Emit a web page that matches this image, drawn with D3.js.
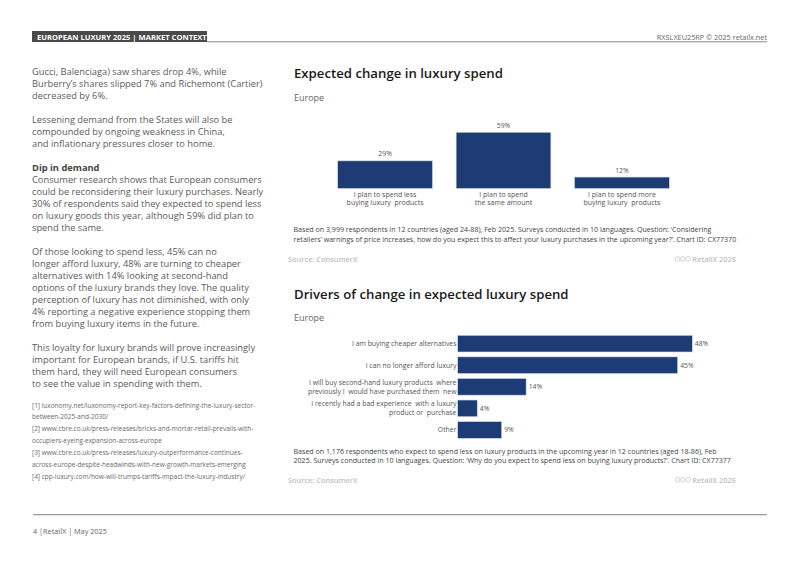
<!DOCTYPE html>
<html><head><meta charset="utf-8">
<script src="https://cdn.jsdelivr.net/npm/d3@7"></script>
<style>
html,body{margin:0;padding:0;background:#fff;}
svg{display:block;font-family:"Open Sans",sans-serif;}
svg text{white-space:pre;}
</style></head>
<body>
<svg id="page" width="800" height="566"></svg>
<script>
// ---------- DATA ----------
const spendCategories = [
  ["I plan to spend less", "buying luxury  products"],
  ["I plan to spend", "the same amount"],
  ["I plan to spend more", "buying luxury  products"]
];
const spendValues = [29, 59, 12];

const driverCategories = [
  ["I am buying cheaper alternatives"],
  ["I can no longer afford luxury"],
  ["I will buy second-hand luxury products  where", "previously I  would have purchased them  new"],
  ["I recently had a bad experience  with a luxury", "product or  purchase"],
  ["Other"]
];
const driverValues = [48, 45, 14, 4, 9];

const bodyParagraphs = [
  {lines:["Gucci, Balenciaga) saw shares drop 4%, while","Burberry’s shares slipped 7% and Richemont (Cartier)","decreased by 6%."]},
  {lines:["Lessening demand from the States will also be","compounded by ongoing weakness in China,","and inflationary pressures closer to home."]},
  {head:"Dip in demand", lines:["Consumer research shows that European consumers","could be reconsidering their luxury purchases. Nearly","30% of respondents said they expected to spend less","on luxury goods this year, although 59% did plan to","spend the same."]},
  {lines:["Of those looking to spend less, 45% can no","longer afford luxury, 48% are turning to cheaper","alternatives with 14% looking at second-hand","options of the luxury brands they love. The quality","perception of luxury has not diminished, with only","4% reporting a negative experience stopping them","from buying luxury items in the future."]},
  {lines:["This loyalty for luxury brands will prove increasingly","important for European brands, if U.S. tariffs hit","them hard, they will need European consumers","to see the value in spending with them."]}
];
const footnotes = [
  "[1] luxonomy.net/luxonomy-report-key-factors-defining-the-luxury-sector-",
  "between-2025-and-2030/",
  "[2] www.cbre.co.uk/press-releases/bricks-and-mortar-retail-prevails-with-",
  "occupiers-eyeing-expansion-across-europe",
  "[3] www.cbre.co.uk/press-releases/luxury-outperformance-continues-",
  "across-europe-despite-headwinds-with-new-growth-markets-emerging",
  "[4] cpp-luxury.com/how-will-trumps-tariffs-impact-the-luxury-industry/"
];
const note1 = ["Based on 3,999 respondents in 12 countries (aged 24-88), Feb 2025. Surveys conducted in 10 languages. Question: ‘Considering",
  "retailers’ warnings of price increases, how do you expect this to affect your luxury purchases in the upcoming year?’. Chart ID: CX77370"];
const note2 = ["Based on 1,176 respondents who expect to spend less on luxury products in the upcoming year in 12 countries (aged 18-86), Feb",
  "2025. Surveys conducted in 10 languages. Question: ‘Why do you expect to spend less on buying luxury products?’. Chart ID: CX77377"];

// ---------- STYLE ----------
const BAR = "#1d3c75";
const svg = d3.select("#page");

// ---------- HEADER ----------
svg.append("rect").attr("x",32).attr("y",31).attr("width",175).attr("height",11).attr("fill","#4a4a4a");
svg.append("text").attr("x",37).attr("y",39.5).attr("fill","#fff").attr("font-size",7.6).attr("font-weight",700)
  .text("EUROPEAN LUXURY 2025 | MARKET CONTEXT");
svg.append("line").attr("x1",207).attr("x2",767).attr("y1",41.8).attr("y2",41.8).attr("stroke","#888").attr("stroke-width",1);
svg.append("text").attr("x",767).attr("y",39.5).attr("text-anchor","end").attr("fill","#666").attr("font-size",7.3)
  .text("RXSLXEU25RP © 2025 retailx.net");

// ---------- LEFT TEXT ----------
const body = svg.append("g");
let y = 75;
const LH = 12;
bodyParagraphs.forEach(p => {
  if (p.head) {
    body.append("text").attr("x",32).attr("y",y).attr("font-size",9.3).attr("font-weight",700).attr("fill","#444").text(p.head);
    y += LH;
  }
  p.lines.forEach(l => {
    body.append("text").attr("x",32).attr("y",y).attr("font-size",9.3).attr("fill","#5a5a5a").text(l);
    y += LH;
  });
  y += LH;
});
footnotes.forEach((f,i) => {
  svg.append("text").attr("x",32).attr("y",407.5 + i*11.9).attr("font-size",6.5).attr("fill","#6a6a6a").text(f);
});

// ---------- CHART 1 ----------
svg.append("text").attr("x",294).attr("y",78).attr("font-size",13.2).attr("font-weight",600).attr("fill","#1a1a1a")
  .text("Expected change in luxury spend");
svg.append("text").attr("x",294).attr("y",100.5).attr("font-size",9).attr("fill","#666").text("Europe");

const x1 = d3.scaleBand().domain(d3.range(spendValues.length)).range([337.7, 669.3]).paddingInner(0.2).paddingOuter(0);
const y1 = d3.scaleLinear().domain([0, 60]).range([188.5, 131.3]);
const g1 = svg.append("g");
g1.selectAll("rect").data(spendValues).join("rect")
  .attr("x",(d,i)=>x1(i)).attr("width",x1.bandwidth())
  .attr("y",d=>y1(d)).attr("height",d=>y1(0)-y1(d))
  .attr("fill",BAR).attr("stroke","#cfd8e6").attr("stroke-width",0.6);
g1.selectAll("text.val").data(spendValues).join("text").attr("class","val")
  .attr("x",(d,i)=>x1(i)+x1.bandwidth()/2).attr("y",d=>y1(d)-4.5)
  .attr("text-anchor","middle").attr("font-size",6.8).attr("fill","#555").text(d=>d+"%");
spendCategories.forEach((lines,i)=>{
  lines.forEach((l,j)=>{
    g1.append("text").attr("x",x1(i)+x1.bandwidth()/2).attr("y",196.5+j*8.8)
      .attr("text-anchor","middle").attr("font-size",7).attr("fill","#555").text(l);
  });
});
note1.forEach((l,i)=>{
  svg.append("text").attr("x",293.5).attr("y",232+i*9.8).attr("font-size",7.08).attr("fill","#444").text(l);
});
function sourceRow(yy){
  svg.append("text").attr("x",288).attr("y",yy).attr("font-size",7.4).attr("fill","#c0c0c0").attr("font-weight",600).text("Source: ConsumerX");
  svg.append("text").attr("x",736).attr("y",yy).attr("text-anchor","end").attr("font-size",7.4).attr("fill","#c0c0c0").attr("font-weight",600).text("RetailX 2025");
  ["c","i","="].forEach((s,k)=>{
    const cx = 677.5 + k*5.3;
    svg.append("circle").attr("cx",cx).attr("cy",yy-2.7).attr("r",2.4).attr("fill","none").attr("stroke","#c4c4c4").attr("stroke-width",0.7);
    svg.append("text").attr("x",cx).attr("y",yy-1.2).attr("text-anchor","middle").attr("font-size",3.6).attr("fill","#c4c4c4").text(s);
  });
}
sourceRow(261.5);

// ---------- CHART 2 ----------
svg.append("text").attr("x",294).attr("y",299).attr("font-size",13.2).attr("font-weight",600).attr("fill","#1a1a1a")
  .text("Drivers of change in expected luxury spend");
svg.append("text").attr("x",294).attr("y",320.5).attr("font-size",9).attr("fill","#666").text("Europe");

const y2 = d3.scaleBand().domain(d3.range(driverValues.length)).range([335.3, 438.3]).paddingInner(0.226).paddingOuter(0);
const x2 = d3.scaleLinear().domain([0, 48]).range([457.7, 692.3]);
const g2 = svg.append("g");
g2.selectAll("rect").data(driverValues).join("rect")
  .attr("x",x2(0)).attr("y",(d,i)=>y2(i)).attr("height",y2.bandwidth())
  .attr("width",d=>x2(d)-x2(0))
  .attr("fill",BAR).attr("stroke","#cfd8e6").attr("stroke-width",0.6);
g2.selectAll("text.val").data(driverValues).join("text").attr("class","val")
  .attr("x",d=>x2(d)+2.5).attr("y",(d,i)=>y2(i)+y2.bandwidth()/2+2.5)
  .attr("font-size",6.8).attr("fill","#555").text(d=>d+"%");
driverCategories.forEach((lines,i)=>{
  const cy = y2(i)+y2.bandwidth()/2;
  const n = lines.length;
  lines.forEach((l,j)=>{
    g2.append("text").attr("x",456.5).attr("y",cy + 2.4 + (j-(n-1)/2)*9)
      .attr("text-anchor","end").attr("font-size",6.9).attr("fill","#555").text(l);
  });
});
note2.forEach((l,i)=>{
  svg.append("text").attr("x",293.5).attr("y",453.5+i*9.8).attr("font-size",7.08).attr("fill","#444").text(l);
});
sourceRow(482.5);

// ---------- FOOTER ----------
svg.append("line").attr("x1",33).attr("x2",767).attr("y1",514.7).attr("y2",514.7).attr("stroke","#999").attr("stroke-width",1.3);
svg.append("text").attr("x",33).attr("y",534).attr("font-size",7.3).attr("fill","#666").text("4 |RetailX | May 2025");
</script>
</body></html>
